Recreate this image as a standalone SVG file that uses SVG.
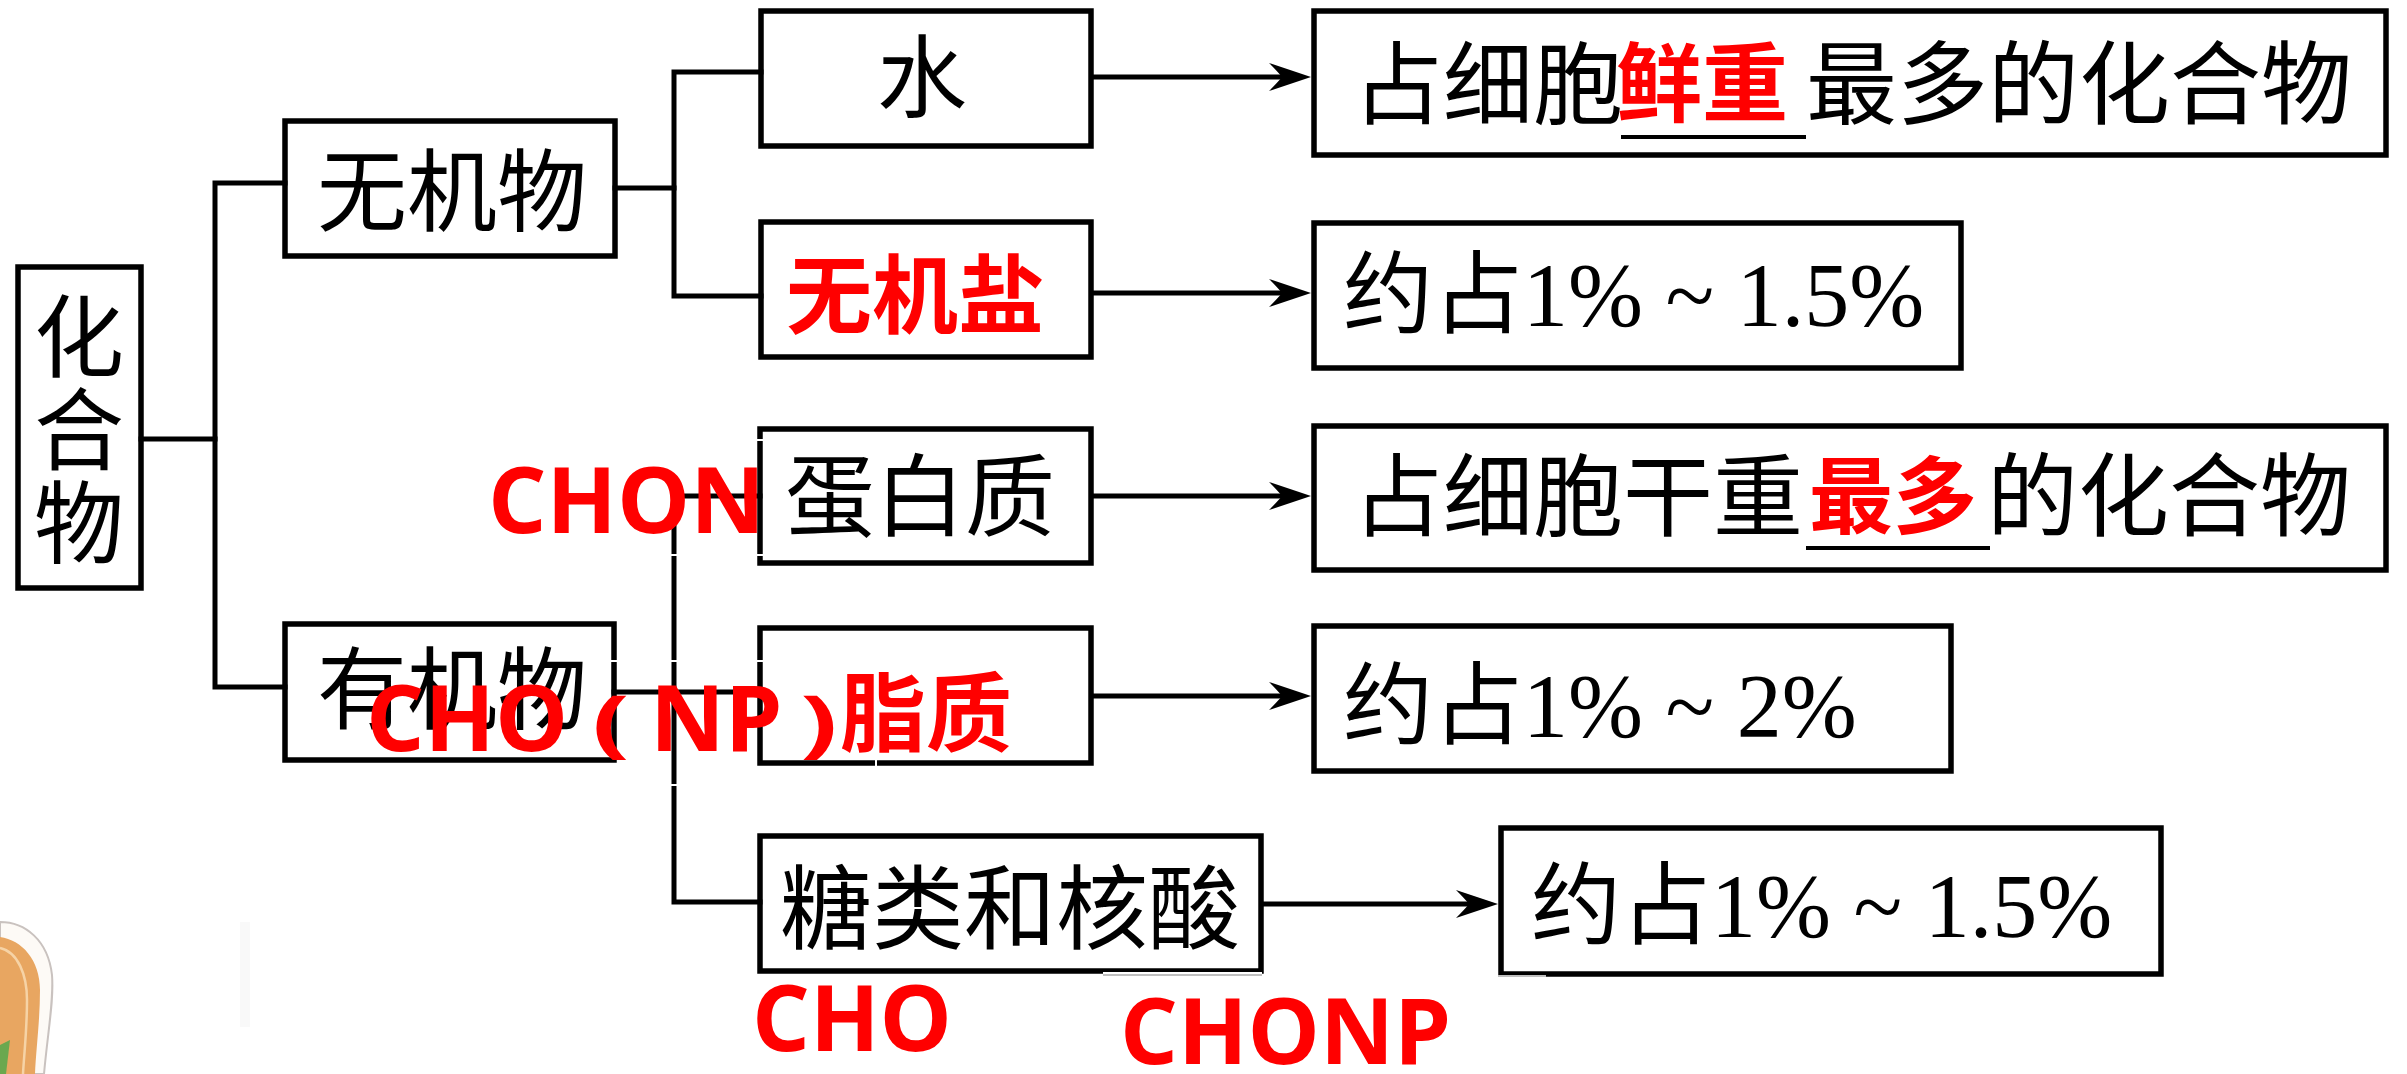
<svg xmlns="http://www.w3.org/2000/svg" width="2407" height="1074" viewBox="0 0 2407 1074">
  <style>
    .box { fill: none; stroke: #000; stroke-width: 5.5; stroke-linejoin: miter; }
    .ln { fill: none; stroke: #000; stroke-width: 5; stroke-linecap: square; }
    .arr { fill: none; stroke: #000; stroke-width: 5; marker-end: url(#head); }
    .t { font-family: "Liberation Serif", "Noto Sans CJK SC", serif; font-size: 90px; fill: #000; }
    .r { font-family: "Noto Sans CJK SC", sans-serif; font-weight: 700; font-size: 86px; fill: #ff0000; }
    .rl { font-family: "Open Sans", "Noto Sans CJK SC", sans-serif; font-weight: 700; font-size: 92px; fill: #ff0000; }
    .ul { stroke: #000; stroke-width: 4; }
    .gap { stroke: #fff; stroke-width: 2; }
  </style>
  <defs>
    <marker id="head" markerUnits="userSpaceOnUse" viewBox="0 0 44 30" markerWidth="44" markerHeight="30" refX="24" refY="14" orient="auto">
      <path d="M42,14 L0,0 Q9,9 13,14 Q9,19 0,28 Z" fill="#000"/>
    </marker>
  </defs>
  <rect width="2407" height="1074" fill="#fff"/>

  <!-- corner decoration, bottom left -->
  <g id="decor">
    <rect x="240" y="922" width="10" height="105" fill="#f9f9f9"/>
    <path d="M0,922 C25,922 48,940 52,975 C54,1000 48,1030 44,1074 L0,1074 Z" fill="#fdfaf6" stroke="#c9c2bf" stroke-width="2"/>
    <path d="M0,937 C22,940 40,960 40,990 C40,1020 36,1050 35,1074 L0,1074 Z" fill="#e8a661"/>
    <path d="M0,948 C18,952 27,975 27,1000 C27,1030 24,1055 23,1074" fill="none" stroke="#f6d3a6" stroke-width="2.5"/>
    <path d="M0,1045 L10,1040 L6,1074 L0,1074 Z" fill="#6aa84f"/>
  </g>

  <!-- connectors -->
  <g id="connectors">
    <polyline class="ln" points="141,439 215,439"/>
    <polyline class="ln" points="285,183 215,183 215,687 285,687"/>
    <polyline class="ln" points="615,188 674,188"/>
    <polyline class="ln" points="761,72 674,72 674,296 761,296"/>
    <polyline class="ln" points="614,692 760,692"/>
    <polyline class="ln" points="760,496 674,496 674,902 760,902"/>
    <line class="arr" x1="1091" y1="77" x2="1293" y2="77"/>
    <line class="arr" x1="1091" y1="293" x2="1293" y2="293"/>
    <line class="arr" x1="1091" y1="496" x2="1293" y2="496"/>
    <line class="arr" x1="1091" y1="696" x2="1293" y2="696"/>
    <line class="arr" x1="1261" y1="904" x2="1480" y2="904"/>
  </g>

  <!-- left column -->
  <g id="n-compound">
    <rect class="box" x="18" y="267" width="123" height="321"/>
    <text class="t" x="79" y="370" text-anchor="middle">化</text>
    <text class="t" x="79" y="463" text-anchor="middle">合</text>
    <text class="t" x="79" y="556" text-anchor="middle">物</text>
  </g>
  <g id="n-inorganic">
    <rect class="box" x="285" y="121" width="330" height="135"/>
    <text class="t" x="452" y="224" text-anchor="middle">无机物</text>
  </g>
  <g id="n-organic">
    <rect class="box" x="285" y="624" width="329" height="136"/>
    <text class="t" x="452" y="722" text-anchor="middle">有机物</text>
  </g>

  <!-- middle column -->
  <g id="n-water">
    <rect class="box" x="761" y="11" width="330" height="135"/>
    <text class="t" x="922" y="110" text-anchor="middle">水</text>
  </g>
  <g id="n-salt">
    <rect class="box" x="761" y="222" width="330" height="135"/>
    <text class="r" x="915" y="327" text-anchor="middle">无机盐</text>
  </g>
  <g id="n-protein">
    <rect class="box" x="760" y="429" width="331" height="134"/>
    <text class="t" x="920" y="529" text-anchor="middle">蛋白质</text>
  </g>
  <g id="n-lipid">
    <rect class="box" x="760" y="628" width="331" height="135"/>
    <text class="r" x="840" y="745">脂质</text>
  </g>
  <g id="n-sugar">
    <rect class="box" x="760" y="836" width="501" height="135"/>
    <text class="t" x="1010" y="942" text-anchor="middle" style="font-size:92px">糖类和核酸</text>
  </g>

  <!-- right column -->
  <g id="n-fresh">
    <rect class="box" x="1314" y="11" width="1072" height="144"/>
    <text class="t" x="1353" y="117">占细胞</text>
    <text class="r" x="1616" y="115">鲜重</text>
    <text class="t" x="1806" y="117" style="font-size:91px">最多的化合物</text>
    <line class="ul" x1="1621" y1="137" x2="1806" y2="137"/>
  </g>
  <g id="n-salt-pct">
    <rect class="box" x="1314" y="223" width="647" height="145"/>
    <text class="t" x="1343" y="326">约占1% ~ 1.5%</text>
  </g>
  <g id="n-dry">
    <rect class="box" x="1314" y="426" width="1072" height="144"/>
    <text class="t" x="1353" y="529">占细胞干重</text>
    <text class="r" x="1809" y="527" style="font-size:84px">最多</text>
    <text class="t" x="1987" y="529" style="font-size:91px">的化合物</text>
    <line class="ul" x1="1806" y1="548" x2="1990" y2="548"/>
  </g>
  <g id="n-lipid-pct">
    <rect class="box" x="1314" y="626" width="637" height="145"/>
    <text class="t" x="1343" y="737">约占1% ~ 2%</text>
  </g>
  <g id="n-sugar-pct">
    <rect class="box" x="1501" y="828" width="660" height="146"/>
    <text class="t" x="1531" y="937">约占1% ~ 1.5%</text>
  </g>

  <!-- thin white seams left by pasted labels -->
  <g id="seams">
    <line class="gap" x1="670" y1="555" x2="678" y2="555"/>
    <line class="gap" x1="756" y1="555" x2="764" y2="555"/>
    <line class="gap" x1="756" y1="440" x2="764" y2="440"/>
    <line class="gap" x1="610" y1="661" x2="618" y2="661"/>
    <line class="gap" x1="670" y1="661" x2="678" y2="661"/>
    <line class="gap" x1="756" y1="661" x2="764" y2="661"/>
    <line class="gap" x1="670" y1="785" x2="678" y2="785"/>
    <line class="gap" x1="876" y1="759" x2="876" y2="767"/>
    <rect x="1103" y="972" width="159" height="4" fill="#fff"/>
    <line x1="1103" y1="975" x2="1262" y2="975" stroke="#aaa" stroke-width="1.5"/>
    <rect x="1498" y="975" width="48" height="3" fill="#fff"/>
    <line x1="1498" y1="976" x2="1546" y2="976" stroke="#aaa" stroke-width="1.5"/>
  </g>

  <!-- element annotations -->
  <g id="labels">
    <text class="rl" x="488" y="533">CHON</text>
    <text class="rl" x="366" y="751">CHO</text>
    <text class="rl" transform="translate(592,748) scale(1.5,1)" style="font-size:74px">(</text>
    <text class="rl" x="650" y="751">NP</text>
    <text class="rl" transform="translate(800,748) scale(1.5,1)" style="font-size:74px">)</text>
    <text class="rl" x="752" y="1051" style="font-size:91px">CHO</text>
    <text class="rl" x="1120" y="1064" style="font-size:91px">CHONP</text>
  </g>
</svg>
